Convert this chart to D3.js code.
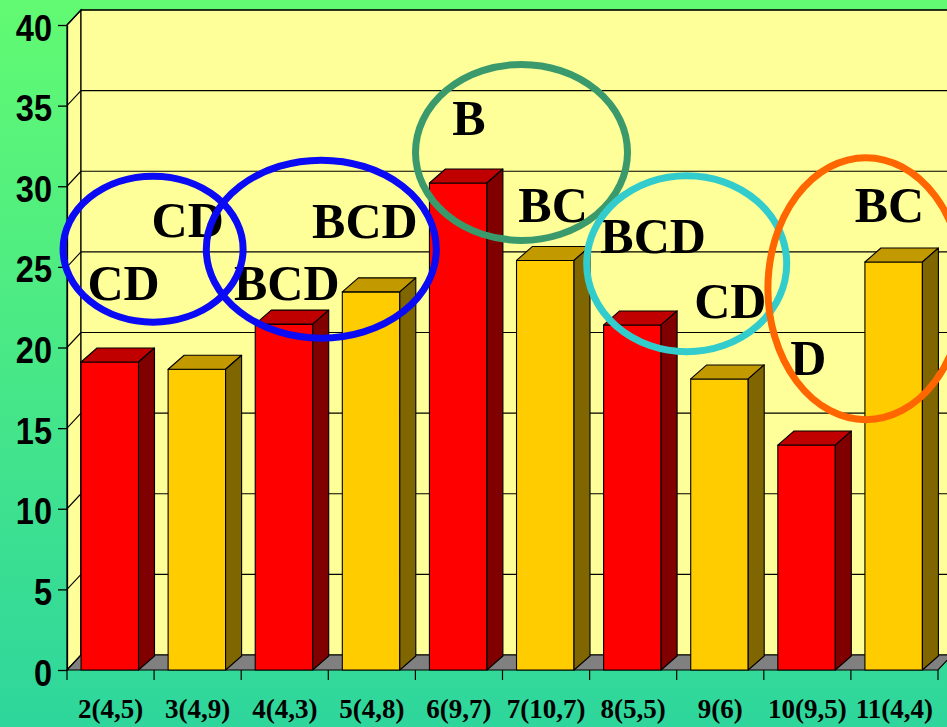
<!DOCTYPE html>
<html>
<head>
<meta charset="utf-8">
<script src="https://cdn.jsdelivr.net/npm/d3@7"></script>
<style>
  body { margin: 0; padding: 0; overflow: hidden; }
  svg { display: block; }
</style>
</head>
<body>
<div id="chart"></div>
<script>
// data
var categories = ["2(4,5)", "3(4,9)", "4(4,3)", "5(4,8)", "6(9,7)", "7(10,7)", "8(5,5)", "9(6)", "10(9,5)", "11(4,4)"];
var values = [19.1, 18.65, 21.45, 23.45, 30.2, 25.4, 21.4, 18.05, 13.95, 25.3];
var groupLetters = ["CD", "CD", "BCD", "BCD", "B", "BC", "BCD", "CD", "D", "BC"];
var yTicks = [0, 5, 10, 15, 20, 25, 30, 35, 40];

// annotation layout: letter offset from band centre (px), baseline in value units
var letterDx = [13, -10, 2, -7, 10, 7, 20, 10, 1, -5];
var letterY = [22.95, 26.85, 22.95, 26.8, 33.2, 27.8, 25.85, 21.8, 18.3, 27.8];
// ellipses: one per pair of bars
var rings = [
  {pair: 0, dx: -1, cy: 26.1, rx: 90, ry: 73, color: "#0a0af5"},
  {pair: 1, dx: -7, cy: 26.1, rx: 115, ry: 89, color: "#0a0af5"},
  {pair: 2, dx: 19, cy: 32.1, rx: 106, ry: 88, color: "#3a9a6c"},
  {pair: 3, dx: 10, cy: 25.2, rx: 100, ry: 88, color: "#33cccc"},
  {pair: 4, dx: 15, cy: 23.65, rx: 98, ry: 131, color: "#ff6600"}
];

var width = 947, height = 727;
var wallDx = 14, wallDy = 15, barDx = 16, barDy = 14;

var svg = d3.select("#chart").append("svg")
    .attr("width", width)
    .attr("height", height);

var grad = svg.append("defs").append("linearGradient")
    .attr("id", "bg").attr("x1", 0).attr("y1", 0).attr("x2", 0).attr("y2", 1);
grad.append("stop").attr("offset", "0%").attr("stop-color", "#62fa72");
grad.append("stop").attr("offset", "100%").attr("stop-color", "#2ed69c");

svg.append("rect").attr("width", width).attr("height", height).attr("fill", "url(#bg)");

var x = d3.scaleBand().domain(categories).range([67, 938]);
var y = d3.scaleLinear().domain([0, 40]).range([670, 25]);
var bw = x.bandwidth();
var x0 = x.range()[0], x1 = x.range()[1];
var yBase = y(0);

function pts(a) { return a.map(function(p) { return p.join(","); }).join(" "); }

// walls
svg.append("polygon")
    .attr("points", pts([[x0, y(40)], [x0 + wallDx, y(40) - wallDy], [x0 + wallDx, yBase - wallDy], [x0, yBase]]))
    .attr("fill", "#ffff99").attr("stroke", "#000").attr("stroke-width", 1.2);
svg.append("rect")
    .attr("x", x0 + wallDx).attr("y", y(40) - wallDy)
    .attr("width", x1 - x0).attr("height", yBase - y(40))
    .attr("fill", "#ffff99").attr("stroke", "#000").attr("stroke-width", 1.2);

// gridlines
var grid = svg.append("g").attr("stroke", "#000").attr("stroke-width", 1.1);
grid.selectAll(".gb").data(yTicks.filter(function(d) { return d > 0; }))
  .enter().append("line")
    .attr("x1", x0 + wallDx).attr("x2", x1 + wallDx)
    .attr("y1", function(d) { return y(d) - wallDy; })
    .attr("y2", function(d) { return y(d) - wallDy; });
grid.selectAll(".gl").data(yTicks.filter(function(d) { return d > 0; }))
  .enter().append("line")
    .attr("x1", x0).attr("x2", x0 + wallDx)
    .attr("y1", function(d) { return y(d); })
    .attr("y2", function(d) { return y(d) - wallDy; });

// floor
svg.append("polygon")
    .attr("points", pts([[x0, yBase], [x1, yBase], [x1 + wallDx, yBase - wallDy], [x0 + wallDx, yBase - wallDy]]))
    .attr("fill", "#808080").attr("stroke", "#000").attr("stroke-width", 1.2);

// bars
var frontCol = ["#ff0000", "#ffcc00"], topCol = ["#c00000", "#c29a00"], sideCol = ["#800000", "#806600"];
var bars = svg.selectAll(".bar").data(values).enter().append("g")
    .attr("stroke", "#000").attr("stroke-width", 1.1).attr("stroke-linejoin", "round");

bars.each(function(v, i) {
  var g = d3.select(this);
  var bx = x(categories[i]) + bw * 0.161, w = bw * 0.66, yt = y(v);
  g.append("rect").attr("x", bx).attr("y", yt).attr("width", w).attr("height", yBase - yt)
      .attr("fill", frontCol[i % 2]);
  g.append("polygon")
      .attr("points", pts([[bx, yt], [bx + w, yt], [bx + w + barDx, yt - barDy], [bx + barDx, yt - barDy]]))
      .attr("fill", topCol[i % 2]);
  g.append("polygon")
      .attr("points", pts([[bx + w, yt], [bx + w + barDx, yt - barDy], [bx + w + barDx, yBase - barDy], [bx + w, yBase]]))
      .attr("fill", sideCol[i % 2]);
});

// x ticks at band edges
var edges = categories.map(function(c) { return x(c); }).concat([x1]);
svg.append("g").selectAll("line").data(edges).enter().append("line")
    .attr("x1", function(d) { return d; }).attr("x2", function(d) { return d; })
    .attr("y1", yBase).attr("y2", yBase + 10)
    .attr("stroke", "#000").attr("stroke-width", 1.2);

// x labels
var xAxis = svg.append("g")
    .attr("transform", "translate(0," + yBase + ")")
    .call(d3.axisBottom(x).tickSize(0).tickPadding(29));
xAxis.select(".domain").remove();
xAxis.selectAll("text")
    .attr("fill", "#000")
    .style("font-family", "'Liberation Serif', 'Times New Roman', serif")
    .style("font-weight", "bold")
    .style("font-size", "27px");

// y axis
var yAxis = svg.append("g")
    .attr("transform", "translate(" + x0 + ",0)")
    .call(d3.axisLeft(y).tickValues(yTicks).tickSize(9).tickSizeOuter(0).tickPadding(8));
yAxis.selectAll("line, path").attr("stroke", "#000").attr("stroke-width", 1.3);
yAxis.selectAll("text")
    .attr("fill", "#000")
    .attr("dy", "15px")
    .attr("transform", "scale(0.88,1)")
    .style("font-family", "'Liberation Sans', Arial, sans-serif")
    .style("font-weight", "bold")
    .style("font-size", "37px");

// group letters
svg.selectAll(".letter").data(groupLetters).enter().append("text")
    .attr("x", function(d, i) { return x(categories[i]) + bw / 2 + letterDx[i]; })
    .attr("y", function(d, i) { return y(letterY[i]); })
    .attr("text-anchor", "middle")
    .style("font-family", "'Liberation Serif', 'Times New Roman', serif")
    .style("font-weight", "bold")
    .style("font-size", "50px")
    .text(function(d) { return d; });

// rings
svg.selectAll(".ring").data(rings).enter().append("ellipse")
    .attr("cx", function(d) { return x(categories[d.pair * 2]) + bw + d.dx; })
    .attr("cy", function(d) { return y(d.cy); })
    .attr("rx", function(d) { return d.rx; })
    .attr("ry", function(d) { return d.ry; })
    .attr("fill", "none")
    .attr("stroke", function(d) { return d.color; })
    .attr("stroke-width", 7);
</script>
</body>
</html>
